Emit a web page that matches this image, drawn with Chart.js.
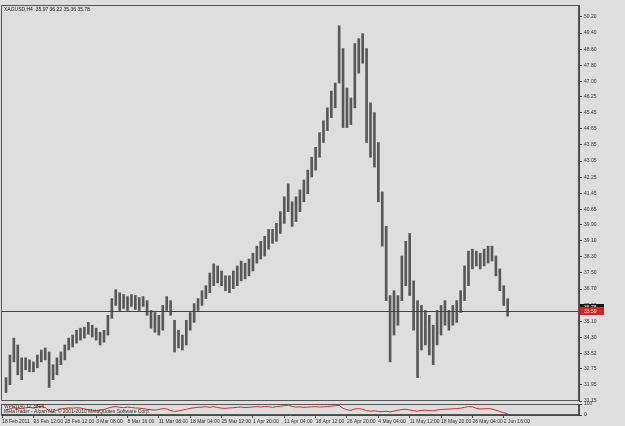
<!DOCTYPE html>
<html><head><meta charset="utf-8">
<script src="https://cdn.jsdelivr.net/npm/chart.js@4.4.1/dist/chart.umd.min.js"></script>
<style>
html,body{margin:0;padding:0;background:#dedede;width:625px;height:426px;overflow:hidden}
canvas{position:absolute;left:0}
#main{top:0}
#sub{top:396px}
</style></head><body>
<canvas id="main" width="625" height="426"></canvas>
<canvas id="sub" width="625" height="30"></canvas>
<script>
// ---------- data ----------
const symbol = 'XAGUSD,H4';
const lastBar = [35.97, 36.22, 35.36, 35.78]; // open, high, low, close
const lineLevel = 35.59;

const highs = [32.31,33.43,34.27,33.93,33.29,33.29,33.19,33.09,33.43,33.68,
33.78,33.58,32.95,33.29,33.58,33.93,34.27,34.42,34.66,34.76,
34.81,35.05,34.91,34.76,34.56,34.66,35.40,36.23,36.67,36.52,
36.43,36.33,36.43,36.38,36.28,36.33,36.13,35.64,35.54,35.40,
35.89,36.33,36.13,35.15,34.66,34.42,35.15,35.54,35.98,36.23,
36.62,36.87,37.50,37.95,37.85,37.60,37.36,37.36,37.60,37.85,
38.09,37.99,38.19,38.48,38.83,39.07,39.32,39.66,39.66,39.96,
40.54,41.28,41.92,41.03,41.28,41.62,42.11,42.60,43.24,43.73,
44.46,45.05,45.69,46.52,46.92,49.76,48.63,46.67,46.18,48.88,
49.12,49.37,48.63,45.94,45.45,43.97,41.52,39.81,36.38,36.62,
36.38,38.34,39.07,39.46,37.11,36.13,35.89,35.64,35.40,34.91,
35.64,35.89,36.13,35.64,35.89,36.13,36.62,37.85,38.58,38.68,
38.58,38.48,38.68,38.83,38.83,38.34,37.70,36.87,36.22];

const lows = [31.57,31.96,33.09,32.45,32.21,32.70,32.60,32.60,32.80,33.09,
33.19,31.82,32.21,32.45,32.95,33.19,33.68,33.83,34.02,34.17,
34.27,34.46,34.32,34.17,33.93,34.07,34.42,35.25,35.89,35.64,
35.74,35.64,35.84,35.69,35.64,35.84,35.40,34.76,34.56,34.42,
34.66,35.64,35.40,33.58,33.78,33.68,33.93,34.66,35.05,35.64,
35.89,36.23,36.52,36.87,37.01,36.87,36.62,36.52,36.72,36.87,
37.11,37.21,37.36,37.60,37.99,38.19,38.34,38.68,38.97,39.07,
39.46,39.96,40.54,39.81,40.05,40.54,41.03,41.43,42.26,42.60,
43.24,43.97,44.56,45.20,45.69,46.92,44.71,44.71,44.86,45.69,
47.41,47.90,43.97,43.24,42.75,41.03,38.83,36.13,33.09,34.42,
34.91,36.13,36.87,36.38,34.66,32.31,33.68,33.93,33.43,32.95,
33.93,34.42,34.91,34.66,34.91,35.05,35.54,36.13,36.87,37.70,
37.85,37.70,37.85,37.99,38.09,37.36,36.62,35.89,35.36];

const indicatorName = 'WPR(14) 12.3818';
const indicator = [49,55,67,56,60,65,70,62,72,78,
70,35,30,45,55,60,64,62,66,63,
55,48,45,42,44,50,62,72,78,70,
66,72,68,64,62,58,52,48,45,50,
58,55,40,32,38,44,52,60,66,70,
72,75,70,76,68,62,60,64,66,70,
72,68,70,74,76,72,78,75,70,76,
80,84,90,78,72,74,70,72,74,76,
72,75,78,80,84,88,60,48,42,55,
58,52,40,35,38,32,30,34,28,36,
44,50,52,46,40,35,42,44,40,38,
46,50,52,54,56,58,62,70,76,74,
60,55,56,58,54,44,32,20,12.38];

const yTickValues = [50.20,49.40,48.60,47.80,47.00,46.25,45.45,44.65,43.85,43.05,42.25,41.45,40.65,39.90,39.10,38.30,37.50,36.70,35.90,35.10,34.30,33.52,32.75,31.95,31.15];
const yTickLabels = ['50.20','49.40','48.60','47.80','47.00','46.25','45.45','44.65','43.85','43.05','42.25','41.45','40.65','39.90','39.10','38.30','37.50','36.70','35.90','35.10','34.30','33.52','32.75','31.95','31.15'];
const subTickValues = [100, 0];
const xTickLabels = ['18 Feb 2011','23 Feb 12:00','28 Feb 12:00','3 Mar 08:00','8 Mar 16:00','11 Mar 08:00','18 Mar 04:00','25 Mar 12:00','1 Apr 20:00','11 Apr 04:00','18 Apr 12:00','26 Apr 20:00','4 May 04:00','11 May 12:00','18 May 20:00','26 May 04:00','2 Jun 16:00'];
const barsPerLabel = 8;
const copyright = 'MetaTrader - Alpari NZ, \u00a9 2001-2010 MetaQuotes Software Corp.';

// ---------- chart ----------
const FONT = '"Liberation Sans", Arial, sans-serif';
Chart.defaults.font.family = FONT;
Chart.defaults.font.size = 5;
Chart.defaults.color = '#333';
const X_MIN = -1.28, X_MAX = 146.2;
const AXIS_COL = '#4a4a4a';

const framePlugin = {
  id: 'frame',
  afterDraw(chart) {
    const {ctx, chartArea: a} = chart;
    ctx.save();
    ctx.strokeStyle = '#555';
    ctx.lineWidth = 1;
    ctx.strokeRect(Math.round(a.left) + 0.5, Math.round(a.top) + 0.5,
                   Math.round(a.right - a.left) - 1, Math.round(a.bottom - a.top) - 1);
    ctx.restore();
  }
};

const pricePlugin = {
  id: 'price',
  afterDatasetsDraw(chart) {
    const {ctx, chartArea: a, scales: {y}} = chart;
    const ly = Math.round(y.getPixelForValue(lineLevel)) + 0.5;
    ctx.save();
    ctx.strokeStyle = '#e00000';
    ctx.lineWidth = 1;
    ctx.beginPath(); ctx.moveTo(a.left, ly); ctx.lineTo(a.right, ly); ctx.stroke();
    ctx.restore();
  },
  afterDraw(chart) {
    const {ctx, chartArea: a, scales: {y}} = chart;
    ctx.save();
    const tag = (v, bg) => {
      const py = y.getPixelForValue(v);
      ctx.fillStyle = bg;
      ctx.fillRect(a.right + 1, Math.round(py) - 4, 24, 8);
      ctx.fillStyle = '#fff';
      ctx.font = '5px ' + FONT;
      ctx.textBaseline = 'middle'; ctx.textAlign = 'left';
      ctx.fillText(v.toFixed(2), a.right + 5, py);
    };
    tag(lastBar[3], '#111');
    tag(lineLevel, '#d42020');
    ctx.fillStyle = '#222';
    ctx.font = '5px ' + FONT;
    ctx.textBaseline = 'middle'; ctx.textAlign = 'left';
    ctx.fillText(symbol + '  ' + lastBar.map(v => v.toFixed(2)).join(' '), a.left + 3, a.top + 5);
    ctx.restore();
  }
};

const subTextPlugin = {
  id: 'subText',
  afterDraw(chart) {
    const {ctx, chartArea: a} = chart;
    ctx.save();
    ctx.fillStyle = '#333';
    ctx.font = '5px ' + FONT;
    ctx.textBaseline = 'middle'; ctx.textAlign = 'left';
    ctx.fillText(indicatorName, a.left + 3, a.top + 3);
    ctx.fillText(copyright, a.left + 3, a.top + 7.5);
    ctx.restore();
  }
};

new Chart(document.getElementById('main'), {
  type: 'bar',
  data: { datasets: [{
    data: highs.map((h, i) => ({x: i, y: [lows[i], h]})),
    backgroundColor: '#585858', borderWidth: 0, barThickness: 2
  }]},
  options: {
    responsive: false, devicePixelRatio: 1, animation: false,
    layout: { padding: {left: 1, top: 1, right: 0, bottom: 25}, autoPadding: false },
    plugins: { legend: {display: false}, tooltip: {enabled: false} },
    scales: {
      x: { type: 'linear', min: X_MIN, max: X_MAX, offset: false, display: false, grid: {offset: false} },
      y: { position: 'right', min: 31.15, max: 50.79,
        afterBuildTicks: s => { s.ticks = yTickValues.map(v => ({value: v})); },
        afterFit: s => { s.width = 46; },
        border: {display: true, color: AXIS_COL},
        grid: {drawOnChartArea: false, drawTicks: true, tickLength: 3, color: AXIS_COL},
        ticks: {autoSkip: false, padding: 2, color: '#333', font: {size: 5},
          callback: v => yTickLabels[yTickValues.indexOf(v)]}
      }
    }
  },
  plugins: [framePlugin, pricePlugin]
});

new Chart(document.getElementById('sub'), {
  type: 'line',
  data: { datasets: [{
    data: indicator.map((v, i) => ({x: i, y: v})),
    borderColor: '#d42a2a', borderWidth: 1, pointRadius: 0, tension: 0
  }]},
  options: {
    responsive: false, devicePixelRatio: 1, animation: false,
    layout: { padding: {left: 1, top: 8, right: 0, bottom: 0}, autoPadding: false },
    plugins: { legend: {display: false}, tooltip: {enabled: false} },
    scales: {
      x: { type: 'linear', min: X_MIN, max: X_MAX, offset: false,
        afterBuildTicks: s => { s.ticks = xTickLabels.map((_, k) => ({value: k * barsPerLabel - 1})); },
        afterFit: s => { s.height = 11; },
        border: {display: true, color: AXIS_COL},
        grid: {drawOnChartArea: false, tickLength: 3, color: AXIS_COL, offset: false},
        ticks: {autoSkip: false, maxRotation: 0, align: 'start', padding: 1, color: '#333', font: {size: 5},
          callback: (v, i) => xTickLabels[i]}
      },
      y: { position: 'right', min: 0, max: 100,
        afterBuildTicks: s => { s.ticks = subTickValues.map(v => ({value: v})); },
        afterFit: s => { s.width = 46; },
        border: {display: true, color: AXIS_COL},
        grid: {drawOnChartArea: false, tickLength: 3, color: AXIS_COL},
        ticks: {autoSkip: false, padding: 2, color: '#333', font: {size: 5}}
      }
    }
  },
  plugins: [framePlugin, subTextPlugin]
});
</script>
</body></html>
